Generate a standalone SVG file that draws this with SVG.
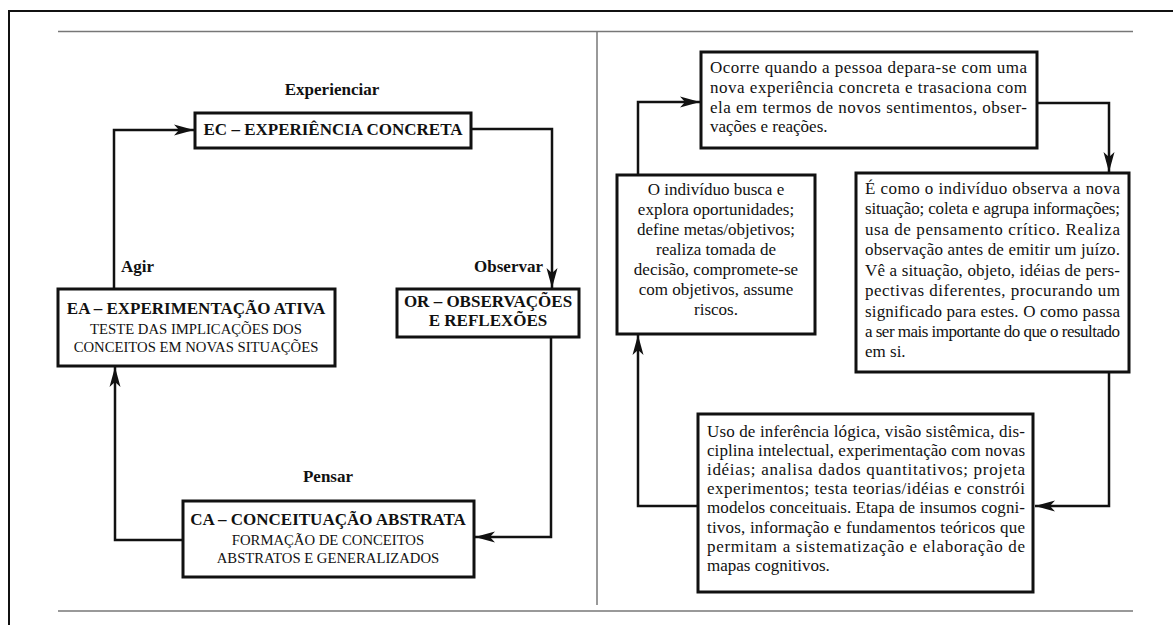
<svg xmlns="http://www.w3.org/2000/svg" width="1173" height="625" viewBox="0 0 1173 625">
<style>
  text { font-family: "Liberation Serif", "Times New Roman", serif; fill: #111; }
  .title { font-size: 17px; font-weight: bold; text-anchor: middle; }
  .label { font-size: 17px; font-weight: bold; }
  .sub { font-size: 14.7px; text-anchor: middle; }
  .body { font-size: 17px; }
  .mid { text-anchor: middle; }
  .box { fill: #fff; stroke: #111; stroke-width: 3; }
  .conn { fill: none; stroke: #111; stroke-width: 2.5; }
  .frame { stroke: #111; stroke-width: 2; fill: none; }
  .rule { stroke: #777; stroke-width: 1.5; fill: none; }
</style>
<defs>
  <marker id="arr" markerUnits="userSpaceOnUse" markerWidth="22" markerHeight="12" refX="20" refY="6" orient="auto">
    <path d="M0,0.5 L20,6 L0,11.5 L5,6 z" fill="#111"/>
  </marker>
</defs>
<rect width="1173" height="625" fill="#fff"/>
<g id="frame">
  <path class="frame" d="M9,625 V11 H1173"/>
  <path class="rule" d="M58,31.5 H1133"/>
  <path class="rule" d="M58,611 H1133"/>
  <path class="rule" d="M597,31.5 V605"/>
</g>
<g id="connectors">
  <path class="conn" d="M114,289 V130 H194" marker-end="url(#arr)"/>
  <path class="conn" d="M471,129 H552 V288" marker-end="url(#arr)"/>
  <path class="conn" d="M551,337 V537 H475" marker-end="url(#arr)"/>
  <path class="conn" d="M183,540 H115 V367" marker-end="url(#arr)"/>
  <path class="conn" d="M638,175 V102 H700" marker-end="url(#arr)"/>
  <path class="conn" d="M1037,103 H1109 V172" marker-end="url(#arr)"/>
  <path class="conn" d="M1109,372 V506 H1035" marker-end="url(#arr)"/>
  <path class="conn" d="M698,506 H638 V335" marker-end="url(#arr)"/>
  <text class="label mid" x="332" y="95">Experienciar</text>
  <text class="label" x="543" y="272" text-anchor="end">Observar</text>
  <text class="label mid" x="328" y="482">Pensar</text>
  <text class="label" x="121" y="272">Agir</text>
</g>
<g id="node-ec">
  <rect class="box" x="195" y="113" width="276" height="35"/>
  <text class="title" x="333" y="135">EC – EXPERIÊNCIA CONCRETA</text>
</g>
<g id="node-or">
  <rect class="box" x="397" y="289" width="182" height="48"/>
  <text class="title" x="488" y="307">OR – OBSERVAÇÕES</text>
  <text class="title" x="488" y="326">E REFLEXÕES</text>
</g>
<g id="node-ca">
  <rect class="box" x="183" y="501" width="291" height="76"/>
  <text class="title" x="328" y="525">CA – CONCEITUAÇÃO ABSTRATA</text>
  <text class="sub" x="328" y="545">FORMAÇÃO DE CONCEITOS</text>
  <text class="sub" x="328" y="563">ABSTRATOS E GENERALIZADOS</text>
</g>
<g id="node-ea">
  <rect class="box" x="58" y="289" width="277" height="77"/>
  <text class="title" x="196" y="314">EA – EXPERIMENTAÇÃO ATIVA</text>
  <text class="sub" x="196" y="334">TESTE DAS IMPLICAÇÕES DOS</text>
  <text class="sub" x="196" y="352">CONCEITOS EM NOVAS SITUAÇÕES</text>
</g>
<g id="node-concreta">
  <rect class="box" x="701" y="52" width="336" height="96"/>
  <text class="body" x="710" y="73" textLength="317" lengthAdjust="spacing">Ocorre quando a pessoa depara-se com uma</text>
  <text class="body" x="710" y="93" textLength="317" lengthAdjust="spacing">nova experiência concreta e trasaciona com</text>
  <text class="body" x="710" y="113" textLength="317" lengthAdjust="spacing">ela em termos de novos sentimentos, obser-</text>
  <text class="body" x="710" y="132">vações e reações.</text>
</g>
<g id="node-observacao">
  <rect class="box" x="856" y="173" width="273" height="199"/>
  <text class="body" x="865" y="193.5" textLength="255" lengthAdjust="spacing">É como o indivíduo observa a nova</text>
  <text class="body" x="865" y="214" textLength="255" lengthAdjust="spacing">situação; coleta e agrupa informações;</text>
  <text class="body" x="865" y="234.5" textLength="255" lengthAdjust="spacing">usa de pensamento crítico. Realiza</text>
  <text class="body" x="865" y="255" textLength="255" lengthAdjust="spacing">observação antes de emitir um juízo.</text>
  <text class="body" x="865" y="275.5" textLength="255" lengthAdjust="spacing">Vê a situação, objeto, idéias de pers-</text>
  <text class="body" x="865" y="296" textLength="255" lengthAdjust="spacing">pectivas diferentes, procurando um</text>
  <text class="body" x="865" y="316.5" textLength="255" lengthAdjust="spacing">significado para estes. O como passa</text>
  <text class="body" x="865" y="337" textLength="255" lengthAdjust="spacing">a ser mais importante do que o resultado</text>
  <text class="body" x="865" y="357">em si.</text>
</g>
<g id="node-abstrata">
  <rect class="box" x="698" y="414" width="335" height="178"/>
  <text class="body" x="707" y="436.5" textLength="318" lengthAdjust="spacing">Uso de inferência lógica, visão sistêmica, dis-</text>
  <text class="body" x="707" y="455.7" textLength="318" lengthAdjust="spacing">ciplina intelectual, experimentação com novas</text>
  <text class="body" x="707" y="474.9" textLength="318" lengthAdjust="spacing">idéias; analisa dados quantitativos; projeta</text>
  <text class="body" x="707" y="494.1" textLength="318" lengthAdjust="spacing">experimentos; testa teorias/idéias e constrói</text>
  <text class="body" x="707" y="513.3" textLength="318" lengthAdjust="spacing">modelos conceituais. Etapa de insumos cogni-</text>
  <text class="body" x="707" y="532.5" textLength="318" lengthAdjust="spacing">tivos, informação e fundamentos teóricos que</text>
  <text class="body" x="707" y="551.7" textLength="318" lengthAdjust="spacing">permitam a sistematização e elaboração de</text>
  <text class="body" x="707" y="570.9">mapas cognitivos.</text>
</g>
<g id="node-ativa">
  <rect class="box" x="617" y="175" width="198" height="159"/>
  <text class="body mid" x="716" y="195">O indivíduo busca e</text>
  <text class="body mid" x="716" y="215">explora oportunidades;</text>
  <text class="body mid" x="716" y="235">define metas/objetivos;</text>
  <text class="body mid" x="716" y="255">realiza tomada de</text>
  <text class="body mid" x="716" y="275">decisão, compromete-se</text>
  <text class="body mid" x="716" y="295">com objetivos, assume</text>
  <text class="body mid" x="716" y="315">riscos.</text>
</g>
</svg>
